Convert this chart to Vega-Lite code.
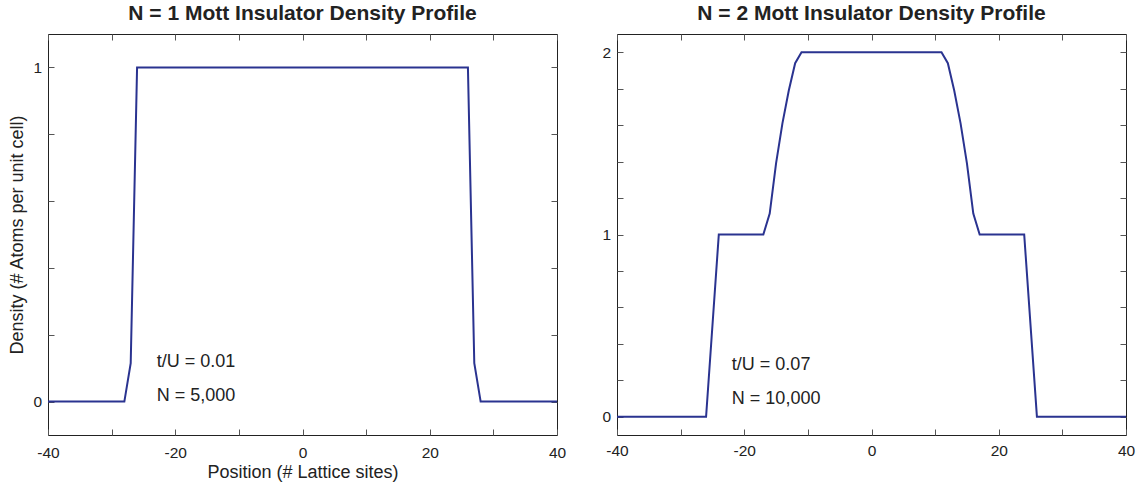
{
  "$schema": "https://vega.github.io/schema/vega-lite/v6.json",
  "padding": {"left": 8, "top": 2, "right": 0, "bottom": 0},
  "background": "white",
  "spacing": 34,
  "config": {
    "font": "Liberation Sans",
    "view": {"stroke": "#222", "strokeWidth": 1},
    "axis": {
      "domain": false, "grid": false, "tickColor": "#555", "tickSize": -6, "tickWidth": 1, "labelFlush": false,
      "labelFontSize": 15.5, "labelColor": "#222", "labelFont": "Liberation Sans",
      "titleFontSize": 18, "titleColor": "#222", "titleFontWeight": "normal", "titleFont": "Liberation Sans"
    },
    "title": {"fontSize": 21, "font": "Liberation Sans", "fontWeight": "bold", "color": "#222", "offset": 10}
  },
  "datasets": {
    "n1": [
      {"pos": -40, "density": 0}, {"pos": -28, "density": 0}, {"pos": -27, "density": 0.115},
      {"pos": -26, "density": 1}, {"pos": 26, "density": 1}, {"pos": 27, "density": 0.115},
      {"pos": 28, "density": 0}, {"pos": 40, "density": 0}
    ],
    "n1text": [
      {"x": -22.9, "y": 0.119, "label": "t/U = 0.01"},
      {"x": -22.9, "y": 0.018, "label": "N = 5,000"}
    ],
    "n2": [
      {"pos": -40, "density": 0}, {"pos": -26, "density": 0}, {"pos": -24, "density": 1},
      {"pos": -17, "density": 1}, {"pos": -16, "density": 1.115}, {"pos": -15, "density": 1.39},
      {"pos": -14, "density": 1.61}, {"pos": -13, "density": 1.79}, {"pos": -12, "density": 1.94},
      {"pos": -11, "density": 2}, {"pos": 11, "density": 2}, {"pos": 12, "density": 1.94},
      {"pos": 13, "density": 1.79}, {"pos": 14, "density": 1.61}, {"pos": 15, "density": 1.39},
      {"pos": 16, "density": 1.115}, {"pos": 17, "density": 1}, {"pos": 24, "density": 1},
      {"pos": 26, "density": 0}, {"pos": 40, "density": 0}
    ],
    "n2text": [
      {"x": -21.95, "y": 0.286, "label": "t/U = 0.07"},
      {"x": -21.95, "y": 0.1, "label": "N = 10,000"}
    ]
  },
  "hconcat": [
    {
      "title": {"text": "N = 1 Mott Insulator Density Profile"},
      "width": 509, "height": 401,
      "layer": [
        {
          "data": {"name": "n1"},
          "mark": {"type": "line", "color": "#2a3390", "strokeWidth": 2},
          "encoding": {
            "x": {"field": "pos", "type": "quantitative",
              "scale": {"domain": [-40, 40], "nice": false, "zero": false},
              "axis": {"orient": "bottom", "values": [-40, -30, -20, -10, 0, 10, 20, 30, 40],
                "labelExpr": "datum.value % 20 === 0 ? '' + datum.value : ''",
                "title": "Position (# Lattice sites)", "labelPadding": 16, "titlePadding": 3}},
            "y": {"field": "density", "type": "quantitative",
              "scale": {"domain": [-0.1, 1.1], "nice": false, "zero": false},
              "axis": {"orient": "left", "values": [0, 0.2, 0.4, 0.6, 0.8, 1],
                "labelExpr": "datum.value % 1 === 0 ? '' + datum.value : ''",
                "title": "Density (# Atoms per unit cell)", "labelPadding": 12.5, "titlePadding": 6}}
          }
        },
        {
          "data": {"name": "n1text"},
          "mark": {"type": "text", "align": "left", "baseline": "middle", "fontSize": 18, "color": "#222", "font": "Liberation Sans"},
          "encoding": {
            "x": {"field": "x", "type": "quantitative",
              "axis": {"orient": "top", "values": [-40, -30, -20, -10, 0, 10, 20, 30, 40], "labels": false, "title": null}},
            "y": {"field": "y", "type": "quantitative",
              "axis": {"orient": "right", "values": [0, 0.2, 0.4, 0.6, 0.8, 1], "labels": false, "title": null}},
            "text": {"field": "label"}
          }
        }
      ],
      "resolve": {"axis": {"x": "independent", "y": "independent"}}
    },
    {
      "title": {"text": "N = 2 Mott Insulator Density Profile"},
      "width": 509, "height": 401,
      "layer": [
        {
          "data": {"name": "n2"},
          "mark": {"type": "line", "color": "#2a3390", "strokeWidth": 2},
          "encoding": {
            "x": {"field": "pos", "type": "quantitative",
              "scale": {"domain": [-40, 40], "nice": false, "zero": false},
              "axis": {"orient": "bottom", "values": [-40, -30, -20, -10, 0, 10, 20, 30, 40],
                "labelExpr": "datum.value % 20 === 0 ? '' + datum.value : ''",
                "title": null, "labelPadding": 14}},
            "y": {"field": "density", "type": "quantitative",
              "scale": {"domain": [-0.1, 2.1], "nice": false, "zero": false},
              "axis": {"orient": "left", "values": [0, 0.2, 0.4, 0.6, 0.8, 1, 1.2, 1.4, 1.6, 1.8, 2],
                "labelExpr": "datum.value % 1 === 0 ? '' + datum.value : ''",
                "title": null, "labelPadding": 12.5}}
          }
        },
        {
          "data": {"name": "n2text"},
          "mark": {"type": "text", "align": "left", "baseline": "middle", "fontSize": 18, "color": "#222", "font": "Liberation Sans"},
          "encoding": {
            "x": {"field": "x", "type": "quantitative",
              "axis": {"orient": "top", "values": [-40, -30, -20, -10, 0, 10, 20, 30, 40], "labels": false, "title": null}},
            "y": {"field": "y", "type": "quantitative",
              "axis": {"orient": "right", "values": [0, 0.2, 0.4, 0.6, 0.8, 1, 1.2, 1.4, 1.6, 1.8, 2], "labels": false, "title": null}},
            "text": {"field": "label"}
          }
        }
      ],
      "resolve": {"axis": {"x": "independent", "y": "independent"}}
    }
  ]
}
